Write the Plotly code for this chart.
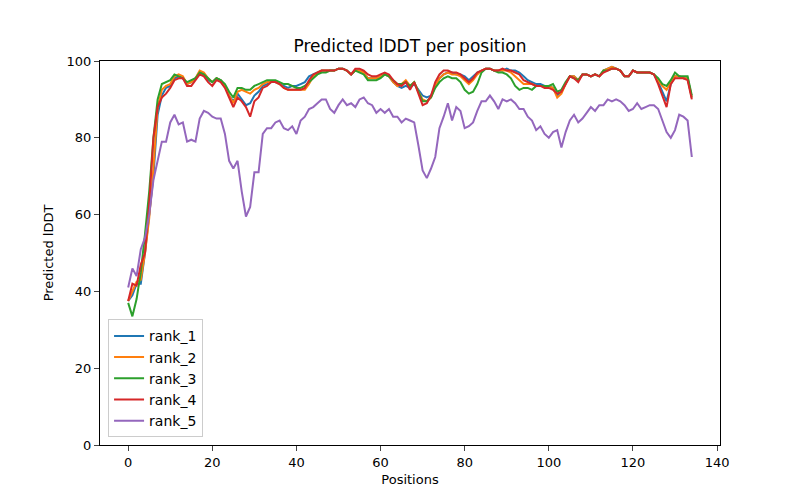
import plotly.graph_objects as go

positions = list(range(135))

rank_1 = [37.5, 39, 42, 42, 50, 60, 70, 86, 91, 93, 93.5, 95.5, 96, 95.5, 94, 94.5, 95.5, 97, 96.5, 95,
          94.5, 95.5, 95, 93.5, 91, 89.5, 91.5, 90, 88.5, 89, 91, 92, 93.5, 94, 94.5, 94.5, 94, 93.5, 93, 93.5,
          93.5, 94, 94.5, 96, 96.5, 97, 97.5, 97.5, 97.5, 97.5, 98, 98, 97.5, 96.5, 97.5, 97.5, 97, 95.5, 95.5, 95.5,
          96, 96.5, 96, 94.5, 93.5, 93, 93.5, 93, 94, 92.5, 91, 90.5, 91, 93.5, 95.5, 96.5, 97, 97, 96.5, 96.5,
          96, 95, 96, 97, 97.5, 98, 98, 97.5, 97.5, 97.5, 98, 97.5, 97.5, 97, 96, 95, 94.5, 94, 94, 93.5,
          93.5, 93, 91, 92, 94, 96, 96, 95, 96.5, 96.5, 96, 96.5, 96, 97.5, 98, 98.5, 98, 97.5, 96, 96,
          97.5, 97, 97, 97, 97, 96.5, 94.5, 92, 89.5, 94, 96, 96, 95.5, 95.5, 90.5]

rank_2 = [37.5, 40, 42.5, 43, 50, 59, 72, 88, 92.5, 93.5, 94, 96, 96.5, 96, 94, 94.5, 95.5, 97.5, 97, 95.5,
          94.5, 95.5, 95, 93.5, 91, 89, 92, 92.5, 92, 91.5, 92.5, 93, 94, 94.5, 94.5, 94.5, 94, 93, 92.5, 92.5,
          92.5, 92.5, 92.5, 94, 96, 97, 97.5, 97.5, 97.5, 97.5, 98, 98, 97.5, 96.5, 97.5, 97.5, 97, 95.5, 95.5, 95.5,
          96, 96.5, 96, 94.5, 93.5, 94, 95, 93.5, 94.5, 92, 90, 89.5, 90.5, 93.5, 95.5, 96.5, 97, 96.5, 96.5, 96,
          95, 94, 95, 96.5, 97.5, 98, 98, 97.5, 97.5, 97.5, 97.5, 97, 96, 95, 94, 94, 94, 93.5, 93.5, 93.5,
          93.5, 93, 90.5, 91.5, 94, 96, 96, 95, 96.5, 96.5, 96, 96.5, 96, 97.5, 98, 98.5, 98, 97.5, 96, 96,
          97.5, 97, 97, 97, 97, 96.5, 95, 93.5, 92.5, 94.5, 96, 96, 95.5, 95.5, 90.5]

rank_3 = [37, 33.5, 38, 45, 55, 66, 80, 90, 94, 94.5, 95, 96.5, 96, 95.5, 94.5, 95, 95.5, 97, 96.5, 95.5,
          94.5, 95.5, 95, 94, 92, 90.5, 93, 93, 92.5, 92.5, 93.5, 94, 94.5, 95, 95, 95, 94.5, 94, 94, 93.5,
          93, 93, 93.5, 94.5, 95.5, 96.5, 97, 97, 97.5, 97.5, 98, 98, 97.5, 96.5, 97.5, 97, 96.5, 95, 95, 95,
          95.5, 96.5, 96, 95, 94, 94, 94.5, 93.5, 94.5, 92, 89.5, 89.5, 90.5, 93, 94.5, 95.5, 96, 95.5, 95.5, 94.5,
          92.5, 91.5, 92, 94, 97, 98, 98, 97.5, 97, 97, 96.5, 95.5, 93.5, 92.5, 93, 93, 92.5, 93.5, 93.5, 93.5,
          93.5, 94, 92, 92.5, 94.5, 96, 95.5, 95, 96.5, 96.5, 96, 96.5, 96, 97.5, 97.5, 98, 98, 97.5, 96, 96,
          97.5, 97, 97, 97, 97, 96.5, 95.5, 94, 93.5, 95, 97, 96, 96, 96, 91]

rank_4 = [37.5, 42, 41.5, 47, 50, 63, 80, 88, 90.5, 91.5, 93, 95, 95.5, 95.5, 93.5, 93.5, 95, 96.5, 96, 94.5,
          93.5, 95, 94.5, 93, 90.5, 88, 90.5, 89.5, 88, 85.5, 89.5, 90.5, 93, 93.5, 94.5, 94.5, 94, 93, 92.5, 92.5,
          92.5, 92.5, 93, 95, 96.5, 97, 97.5, 97.5, 97.5, 97.5, 98, 98, 97.5, 96.5, 98, 98, 97.5, 96.5, 96, 96,
          96.5, 97, 96.5, 95, 94, 93.5, 94.5, 92.5, 94.5, 91.5, 88.5, 89, 91, 94.5, 96.5, 97.5, 97.5, 97, 97, 96.5,
          95.5, 94.5, 95.5, 97, 97.5, 98, 98, 97.5, 97.5, 98, 97.5, 97.5, 97, 96.5, 95, 94.5, 94, 93.5, 93.5, 93,
          93, 92.5, 91.5, 92, 94, 96, 95.5, 94.5, 96.5, 96.5, 96, 96.5, 96, 97, 97.5, 98, 98, 97.5, 96, 96,
          97.5, 97, 97, 97, 97, 96.5, 94, 91, 88, 94, 95.5, 95.5, 95.5, 95, 90]

rank_5 = [41, 46, 44, 51, 54, 60, 69, 74, 79, 79, 84, 86, 83.5, 84, 79, 79.5, 79, 85, 87, 86.5,
          85.5, 85, 85, 81, 74, 72, 74, 66, 59.5, 62, 71, 71, 81, 82.5, 82.5, 84, 84.5, 82.5, 82, 83,
          81, 84.5, 85.5, 87.5, 88, 89, 90, 90, 87.5, 86.5, 88.5, 90, 88.5, 89, 88, 90, 90.5, 89, 88.5, 86.5,
          87.5, 86.5, 87.5, 85.5, 85.5, 84, 85, 84.5, 84, 78, 71.5, 69.5, 72, 75, 82.5, 85.5, 89, 84.5, 88, 87,
          82.5, 83, 84, 87, 89.5, 89.5, 91, 89.5, 87.5, 90, 89.5, 90, 89, 87.5, 87.5, 85.5, 84.5, 82, 83, 81,
          80, 81.5, 82, 77.5, 81.5, 84.5, 86, 84, 85, 86.5, 88, 87, 88.5, 88.5, 90, 89.5, 90, 89.5, 88.5, 87,
          87.5, 89, 87.5, 88, 88.5, 88.5, 87.5, 84.5, 81.5, 80, 82, 86, 85.5, 84.5, 75]

series_names = ["rank_1", "rank_2", "rank_3", "rank_4", "rank_5"]
series_values = [rank_1, rank_2, rank_3, rank_4, rank_5]
colors = ["#1f77b4", "#ff7f0e", "#2ca02c", "#d62728", "#9467bd"]

x_ticks = [0, 20, 40, 60, 80, 100, 120, 140]
y_ticks = [0, 20, 40, 60, 80, 100]

fig = go.Figure()
for name, vals, c in zip(series_names, series_values, colors):
    fig.add_trace(go.Scatter(x=positions, y=vals, mode="lines", name=name,
                             line=dict(color=c, width=2)))

font = "DejaVu Sans"
fig.update_layout(
    width=800, height=500,
    margin=dict(l=92, r=88, t=53, b=63),
    paper_bgcolor="white", plot_bgcolor="white",
    font=dict(family=font, size=14, color="black"),
    title=dict(text="Predicted lDDT per position", x=(92 + 712) / 2 / 800, xanchor="center",
               y=1 - 38 / 500, yanchor="middle", font=dict(size=17, family=font)),
    xaxis=dict(range=[-6.7, 140.7], tickvals=x_ticks, ticks="outside", ticklen=5,
               showgrid=False, zeroline=False, showline=True, linecolor="black",
               linewidth=1, mirror=True, tickfont=dict(size=13),
               title=dict(text="Positions", font=dict(size=13), standoff=6)),
    yaxis=dict(range=[0, 100], tickvals=y_ticks, ticks="outside", ticklen=5,
               showgrid=False, zeroline=False, showline=True, linecolor="black",
               linewidth=1, mirror=True, tickfont=dict(size=13),
               title=dict(text="Predicted lDDT", font=dict(size=13), standoff=10)),
    legend=dict(x=0.013, y=0.02, xanchor="left", yanchor="bottom",
                bgcolor="rgba(255,255,255,0.8)", bordercolor="#cccccc", borderwidth=1,
                font=dict(size=14), tracegroupgap=0),
    showlegend=True,
)

fig.write_html("out.html")
